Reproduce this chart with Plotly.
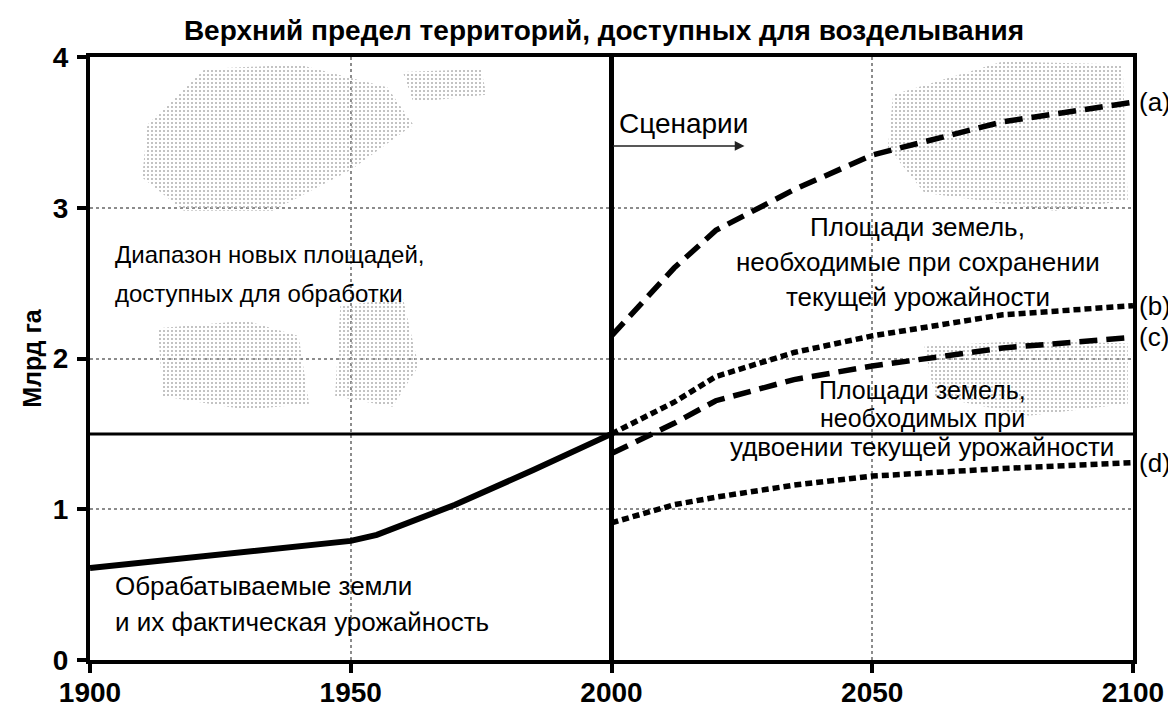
import plotly.graph_objects as go

# ---- data ----
hist_years = [1900, 1920, 1935, 1950, 1955, 1970, 1985, 2000]
hist_vals = [0.61, 0.68, 0.73, 0.79, 0.83, 1.03, 1.26, 1.50]

scen_years = [2000, 2012, 2020, 2035, 2050, 2075, 2100]
scen_a = [2.15, 2.60, 2.85, 3.12, 3.35, 3.57, 3.70]
scen_b = [1.50, 1.71, 1.88, 2.04, 2.15, 2.29, 2.35]
scen_c = [1.37, 1.57, 1.72, 1.86, 1.95, 2.07, 2.14]
scen_d = [0.91, 1.03, 1.08, 1.16, 1.22, 1.27, 1.31]
scen_labels = ["(a)", "(b)", "(c)", "(d)"]

x_ticks = [1900, 1950, 2000, 2050, 2100]
y_ticks = [0, 1, 2, 3, 4]

# stippled texture regions (decorative)
stipple_regions = [
    ([1911, 1922, 1940, 1957, 1962, 1950, 1935, 1918, 1910], [3.55, 3.92, 3.95, 3.80, 3.55, 3.25, 2.98, 2.98, 3.20]),
    ([1960, 1975, 1976, 1962], [3.90, 3.92, 3.75, 3.70]),
    ([1913, 1930, 1940, 1942, 1930, 1914], [2.20, 2.25, 2.15, 1.70, 1.66, 1.75]),
    ([1948, 1960, 1963, 1958, 1947], [2.35, 2.40, 1.95, 1.68, 1.75]),
    ([2054, 2075, 2098, 2099, 2085, 2060, 2053], [3.75, 3.97, 3.95, 3.05, 2.98, 3.10, 3.40]),
    ([2060, 2080, 2099, 2099, 2080, 2062], [2.08, 2.12, 2.10, 1.70, 1.62, 1.75]),
]

FONT = "Liberation Sans, Arial, sans-serif"

# the page body has an 8px margin, so the figure is sized to the visible area
W, H = 1168, 701

fig = go.Figure()

for xs, ys in stipple_regions:
    fig.add_trace(go.Scatter(
        x=xs + [xs[0]], y=ys + [ys[0]], mode="lines", fill="toself",
        line=dict(width=0, color="rgba(0,0,0,0)"),
        fillcolor="rgba(255,255,255,0)",
        fillpattern=dict(shape=".", fgcolor="#b4b4b4", bgcolor="rgba(255,255,255,0)",
                         size=4, solidity=0.22),
        hoverinfo="skip", showlegend=False))

fig.add_trace(go.Scatter(x=hist_years, y=hist_vals, mode="lines",
                         line=dict(color="black", width=6), showlegend=False))
dash_long = "18px,9px"
dash_dot = "7px,4px"
for series, dash in zip([scen_a, scen_b, scen_c, scen_d], [dash_long, dash_dot, dash_long, dash_dot]):
    fig.add_trace(go.Scatter(x=scen_years, y=series, mode="lines",
                             line=dict(color="black", width=5.5, dash=dash), showlegend=False))

# reference lines
fig.add_shape(type="line", x0=2000, x1=2000, y0=0, y1=4, xref="x", yref="y",
              line=dict(color="black", width=5))
fig.add_shape(type="line", x0=1900, x1=2100, y0=1.5, y1=1.5, xref="x", yref="y",
              line=dict(color="black", width=3))


def txt(x, y, s, size, anchor="left"):
    return dict(x=x, y=y, text=s, xanchor=anchor, yanchor="middle", showarrow=False,
                xref="x", yref="y", font=dict(family=FONT, size=size, color="black"))


annotations = [
    txt(2001, 3.56, "Сценарии", 28),
    dict(x=2025.5, y=3.41, ax=2000, ay=3.41, xref="x", yref="y", axref="x", ayref="y",
         text="", showarrow=True, arrowhead=2, arrowsize=1.3, arrowwidth=1.5, arrowcolor="#222"),
    txt(2058.7, 2.875, "Площади земель,", 26, "center"),
    txt(2058.7, 2.64, "необходимые при сохранении", 26, "center"),
    txt(2058.7, 2.41, "текущей урожайности", 26, "center"),
    txt(1904.4, 2.69, "Диапазон новых площадей,", 24),
    txt(1904.4, 2.43, "доступных для обработки", 24),
    txt(1904.4, 0.49, "Обрабатываемые земли", 26),
    txt(1904.4, 0.255, "и их фактическая урожайность", 26),
    txt(2059.6, 1.79, "Площади земель,", 25, "center"),
    txt(2059.6, 1.605, "необходимых при", 25, "center"),
    txt(2059.6, 1.41, "удвоении текущей урожайности", 26, "center"),
]
for lab, series in zip(scen_labels, [scen_a, scen_b, scen_c, scen_d]):
    a = txt(2100, series[-1], lab, 26)
    a["xshift"] = 4
    annotations.append(a)

fig.update_layout(
    template="none",
    width=W, height=H,
    margin=dict(l=82, r=43, t=49, b=49, autoexpand=False),
    paper_bgcolor="white", plot_bgcolor="white",
    title=dict(text="<b>Верхний предел территорий, доступных для возделывания</b>",
               x=596 / W, xref="container", xanchor="center", y=1 - 22 / H, yref="container",
               yanchor="middle",
               font=dict(family=FONT, size=28, color="black")),
    annotations=annotations,
    font=dict(family=FONT, color="black"),
    showlegend=False,
)

axis_common = dict(showline=True, mirror=True, linecolor="black", linewidth=4,
                   ticks="outside", ticklen=9, tickwidth=4, tickcolor="black",
                   tickfont=dict(family=FONT, size=28, color="black"),
                   showgrid=True, gridcolor="#8c8c8c", gridwidth=1.5, griddash="dot",
                   zeroline=False, automargin=False)
fig.update_xaxes(range=[1900, 2100], tickvals=x_ticks, ticktext=[f"<b>{v}</b>" for v in x_ticks],
                 ticklabelstandoff=-5, **axis_common)
fig.update_yaxes(range=[0, 4], tickvals=y_ticks, ticktext=[f"<b>{v}</b>" for v in y_ticks],
                 ticklabelstandoff=3,
                 title=dict(text="<b>Млрд га</b>", font=dict(family=FONT, size=25, color="black"),
                            standoff=5),
                 **axis_common)

fig.write_html("out.html")
